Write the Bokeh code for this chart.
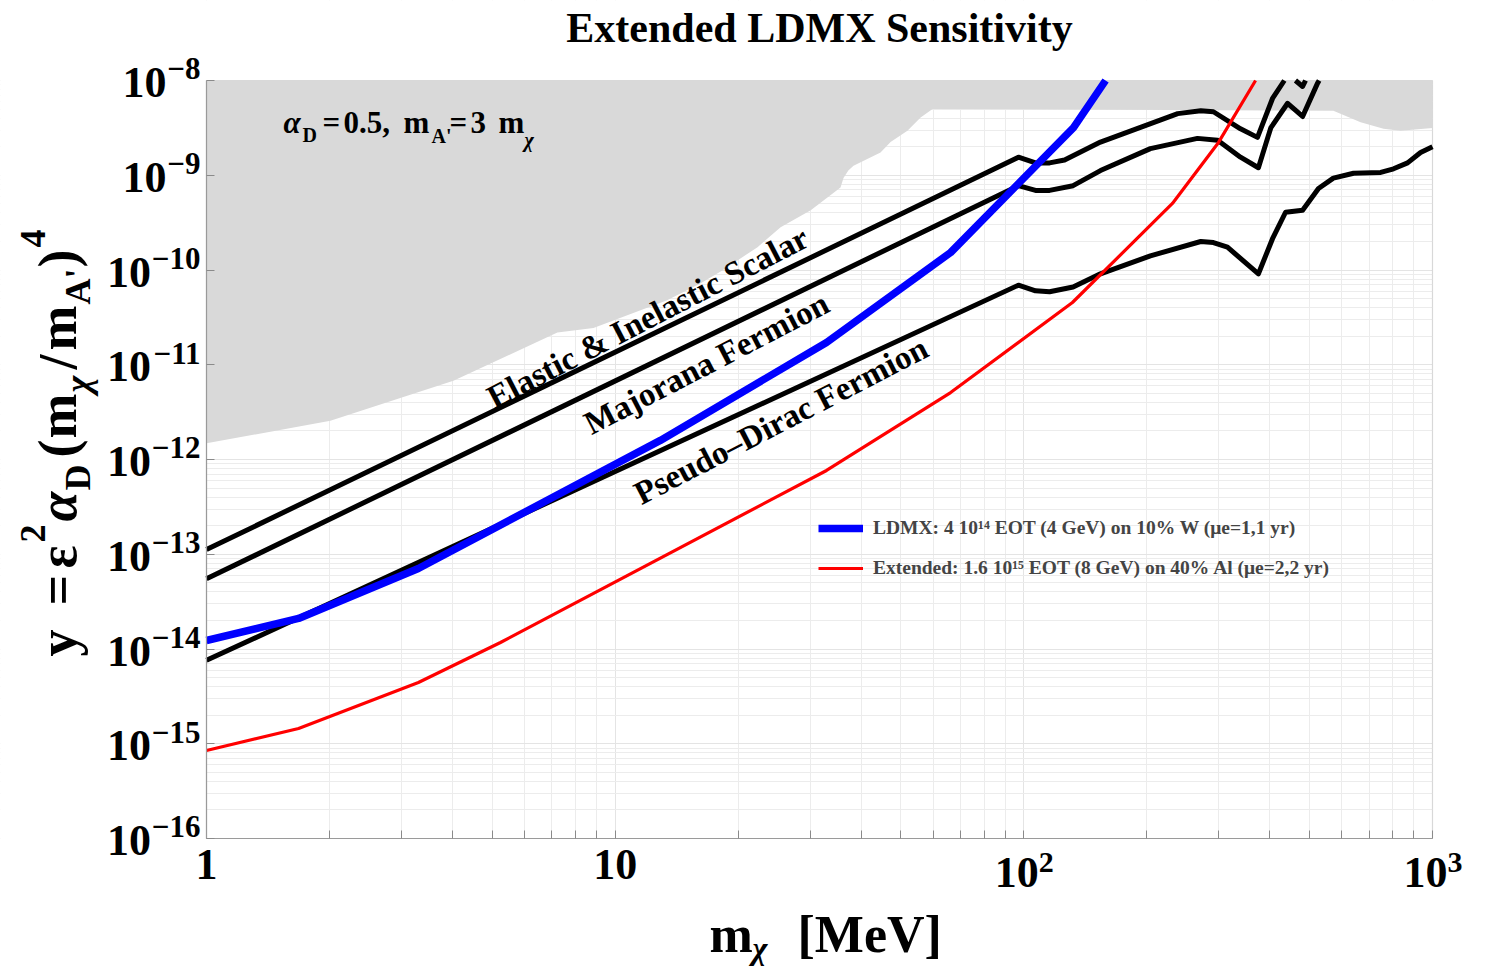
import math
from bokeh.plotting import figure
from bokeh.models import Label, Legend, LegendItem, FixedTicker, Range1d, BoxAnnotation
from bokeh.embed import file_html
from bokeh.resources import INLINE

# ---------------- data ----------------
# excluded (gray) region: lower boundary
mchi_excl = [1.0, 2.01, 2.98, 4.02, 7.22, 8.85, 13.4, 16.2, 18.2, 22.3, 25.4, 30.1,
             35.6, 36.2, 37.2, 38.3, 44.6, 47.2, 51.9, 55.9, 59.8, 572, 667, 759, 835, 1000]
y_excl = [1.48e-12, 2.57e-12, 4.47e-12, 6.76e-12, 2.19e-11, 2.45e-11, 4.79e-11, 7.24e-11,
          9.77e-11, 1.74e-10, 2.82e-10, 4.27e-10, 7.41e-10, 9.33e-10, 1.12e-9, 1.26e-9,
          1.74e-9, 2.24e-9, 2.95e-9, 4.07e-9, 5.01e-9, 4.79e-9, 3.63e-9, 3.09e-9, 2.95e-9, 3.16e-9]

# thermal relic targets (curves leave the plot at the top, 1e-8)
mchi_scalar = [1.0, 97.0, 106.8, 115.6, 125.8, 154, 238, 271, 291, 339, 373, 406, 434]
y_scalar = [1.12e-13, 1.55e-9, 1.35e-9, 1.35e-9, 1.45e-9, 2.24e-9, 4.47e-9, 4.79e-9, 4.68e-9,
            3.09e-9, 2.51e-9, 6.46e-9, 1.0e-8]
mchi_scalar_tip = [462, 481, 489]
y_scalar_tip = [1.0e-8, 8.65e-9, 1.0e-8]

mchi_majorana = [1.0, 97.0, 106.8, 115.6, 132, 154, 204, 266, 298, 339, 375, 402, 442, 481, 523, 528]
y_majorana = [5.50e-14, 7.76e-10, 6.92e-10, 6.92e-10, 7.76e-10, 1.12e-9, 1.91e-9, 2.45e-9, 2.34e-9,
              1.55e-9, 1.20e-9, 3.16e-9, 5.75e-9, 4.17e-9, 9.33e-9, 1.0e-8]

mchi_pdirac = [1.0, 97.0, 106.8, 115.6, 132, 154, 204, 271, 291, 315, 375, 406, 437, 481, 526,
               572, 641, 747, 803, 869, 935, 1000]
y_pdirac = [7.59e-15, 6.92e-11, 6.03e-11, 5.89e-11, 6.61e-11, 9.12e-11, 1.41e-10, 2.00e-10, 1.95e-10,
            1.74e-10, 9.12e-11, 2.14e-10, 4.07e-10, 4.27e-10, 7.24e-10, 9.33e-10, 1.05e-9, 1.07e-9,
            1.17e-9, 1.35e-9, 1.74e-9, 2.00e-9]

# projected sensitivities
mchi_ldmx = [1.0, 1.68, 3.30, 12.9, 32.9, 66.2, 132.3, 158.5]
y_ldmx = [1.23e-14, 2.10e-14, 7.08e-14, 1.59e-12, 1.72e-11, 1.53e-10, 3.19e-9, 1.0e-8]

mchi_ext = [1.0, 1.68, 3.30, 5.24, 32.9, 66.2, 131.5, 231, 299.5, 369]
y_ext = [8.49e-16, 1.45e-15, 4.43e-15, 1.17e-14, 7.66e-13, 5.09e-12, 4.54e-11, 5.04e-10,
         2.22e-9, 1.0e-8]

legend_labels = ["LDMX: 4 10\u00b9\u2074 EOT (4 GeV) on 10% W (\u03bce=1,1 yr)",
                 "Extended: 1.6 10\u00b9\u2075 EOT (8 GeV) on 40% Al (\u03bce=2,2 yr)"]
curve_labels = ["Elastic & Inelastic Scalar", "Majorana Fermion", "Pseudo\u2013Dirac Fermion"]
x_tick_exps = [0, 1, 2, 3]
y_tick_exps = [-16, -15, -14, -13, -12, -11, -10, -9, -8]
title_text = "Extended LDMX Sensitivity"

# ---------------- layout geometry ----------------
FONT = "Liberation Serif"
W, H = 1480, 966
BL, BR, BT, BB = 206, 1432, 80, 838        # data box on the canvas (pixels)
XMIN, XMAX, YMIN, YMAX = 1.0, 1000.0, 1e-16, 1e-8
xdec = (BR - BL) / (math.log10(XMAX) - math.log10(XMIN))
ydec = (BB - BT) / (math.log10(YMAX) - math.log10(YMIN))
x_lo = 10 ** (math.log10(XMIN) - BL / xdec)
x_hi = 10 ** (math.log10(XMIN) + (W - BL) / xdec)
y_hi = 10 ** (math.log10(YMAX) + BT / ydec)
y_lo = 10 ** (math.log10(YMAX) - (H - BT) / ydec)

p = figure(width=W, height=H, x_axis_type="log", y_axis_type="log",
           x_range=Range1d(x_lo, x_hi), y_range=Range1d(y_lo, y_hi),
           output_backend="svg", toolbar_location=None,
           min_border=0, min_border_left=0, min_border_right=0, min_border_top=0, min_border_bottom=0)
p.background_fill_color = "white"
p.border_fill_color = "white"
p.outline_line_color = None

xt = FixedTicker(ticks=[10.0 ** e for e in x_tick_exps],
                 minor_ticks=[m * 10.0 ** n for n in range(0, 3) for m in range(2, 10)])
yt = FixedTicker(ticks=[10.0 ** e for e in y_tick_exps],
                 minor_ticks=[m * 10.0 ** n for n in range(-16, -8) for m in range(2, 10)])
p.xaxis.ticker = xt
p.yaxis.ticker = yt
p.xgrid.ticker = xt
p.ygrid.ticker = yt
p.xaxis.fixed_location = YMIN
p.yaxis.fixed_location = XMIN
p.xaxis.bounds = (XMIN, XMAX)
p.yaxis.bounds = (YMIN, YMAX)
for ax in (p.xaxis, p.yaxis):
    ax.axis_line_color = "#9a9a9a"
    ax.axis_line_width = 1.2
    ax.major_tick_line_color = "#8a8a8a"
    ax.minor_tick_line_color = "#8a8a8a"
    ax.major_tick_in = 8
    ax.major_tick_out = 0
    ax.minor_tick_in = 8
    ax.minor_tick_out = 0
    ax.major_label_text_font_size = "8px"
    ax.major_label_text_color = None
p.yaxis.minor_tick_line_color = None
for g in (p.xgrid, p.ygrid):
    g.grid_line_color = "#e4e4e4"
    g.minor_grid_line_color = "#ececec"
    g.grid_line_width = 1
    g.minor_grid_line_width = 1

# white masks outside the data box (hide grid lines there), then the box outline
for kw in (dict(bottom=YMAX), dict(top=YMIN), dict(right=XMIN), dict(left=XMAX)):
    p.add_layout(BoxAnnotation(fill_color="white", fill_alpha=1.0, line_color=None,
                               level="underlay", **kw))
p.add_layout(BoxAnnotation(left=XMIN, right=XMAX, bottom=YMIN, top=YMAX, fill_alpha=0,
                           line_color="#9a9a9a", line_width=1.2, level="underlay"))

# gray excluded region
p.varea(x=mchi_excl, y1=y_excl, y2=[YMAX] * len(mchi_excl), fill_color="#d9d9d9")

# relic lines
for xs, ys in ((mchi_scalar, y_scalar), (mchi_scalar_tip, y_scalar_tip),
               (mchi_majorana, y_majorana), (mchi_pdirac, y_pdirac)):
    p.line(xs, ys, line_color="black", line_width=5, line_join="round")

r_blue = p.line(mchi_ldmx, y_ldmx, line_color="#0000ff", line_width=7.5, line_join="round")
r_red = p.line(mchi_ext, y_ext, line_color="#ff0000", line_width=3.2, line_join="round")

legend = Legend(items=[LegendItem(label=legend_labels[0], renderers=[r_blue]),
                       LegendItem(label=legend_labels[1], renderers=[r_red])],
                location=(818, H - 580), orientation="vertical")
legend.border_line_color = None
legend.background_fill_alpha = 0
legend.padding = 0
legend.margin = 0
legend.glyph_width = 45
legend.glyph_height = 24
legend.label_height = 24
legend.spacing = 16
legend.label_standoff = 10
legend.label_text_font = FONT
legend.label_text_font_style = "bold"
legend.label_text_font_size = "19.5px"
p.add_layout(legend)


def put(text, x, y, dx, dy, size, align="left", angle=0.0, style="bold", shift=True):
    # (dx, dy) locate the text baseline; labels anchor at mid-cap height, so shift by ~0.34 em
    s = 0.34 * size if shift else 0.0
    p.add_layout(Label(x=x, y=y, x_offset=dx - math.sin(angle) * s, y_offset=dy + math.cos(angle) * s,
                       text=text, text_font=FONT, text_font_size=f"{size}px",
                       text_font_style=style, text_align=align, text_baseline="alphabetic",
                       angle=angle, text_color="black"))


def put_px(text, px, py, size, **kw):
    # position given in canvas pixels, anchored to the data box's bottom-left corner
    put(text, XMIN, YMIN, px - BL, BB - py, size, **kw)


# y tick labels: 10 with superscript exponent
SUP = 31
for e in y_tick_exps:
    sup = "\u2212" + str(-e)
    wsup = SUP * (0.564 + 0.5 * len(str(-e)))
    put(sup, XMIN, 10.0 ** e, -6, 1, SUP, align="right")
    put("10", XMIN, 10.0 ** e, -6 - wsup - 1, -17, 44, align="right")

# x tick labels
for e in x_tick_exps:
    if e == 0:
        put("1", 10.0 ** e, YMIN, 0, -41, 44, align="center")
    elif e == 1:
        put("10", 10.0 ** e, YMIN, 0, -41, 44, align="center")
    else:
        put("10", 10.0 ** e, YMIN, 15, -49, 44, align="right")
        put(str(e), 10.0 ** e, YMIN, 15, -34, 30, align="left")

# title
put(title_text, 10 ** 1.5, YMAX, 0, 38, 42, align="center")

# x axis label: m_chi [MeV]
put_px("m", 709, 952, 52)
put_px("\u03c7", 752, 958, 32, style="bold italic")
put_px("[MeV]", 797, 952, 52)

# y axis label (rotated): y = eps^2 alpha_D (m_chi/m_A')^4
ROT = math.pi / 2
BM, BSUP, BSUB = 76, 45, 90
ylab = [("y", 656, BM, 54, "bold"), ("=", 605, BM, 54, "bold"), ("\u03b5", 568, BM, 54, "bold"),
        ("2", 542, BSUP, 36, "bold"), ("\u03b1", 521, BM, 54, "bold italic"),
        ("D", 490, BSUB, 36, "bold"), ("(", 457, BM, 54, "bold"), ("m", 438, BM, 54, "bold"),
        ("\u03c7", 392, BSUB, 36, "bold italic"), ("/", 369, BM, 54, "bold"),
        ("m", 350, BM, 54, "bold"), ("A'", 304, BSUB, 36, "bold"), (")", 267, BM, 54, "bold"),
        ("4", 247, BSUP, 36, "bold")]
for txt, py, bx, sz, st in ylab:
    put_px(txt, bx, py, sz, angle=ROT, style=st)

# parameter annotation: alpha_D=0.5, m_A'=3 m_chi
ann = [("\u03b1", 283, 133, 31, "bold italic"), ("D", 302, 141, 20, "bold"),
       ("=", 322, 133, 31, "bold"), ("0.5,", 343, 133, 31, "bold"), ("m", 403, 133, 31, "bold"),
       ("A'", 431, 142, 20, "bold"), ("=", 449, 133, 31, "bold"), ("3", 470, 133, 31, "bold"),
       ("m", 498, 133, 31, "bold"), ("\u03c7", 524, 146, 20, "bold italic")]
for txt, px, py, sz, st in ann:
    put_px(txt, px, py, sz, style=st)

# curve labels along the relic lines
CANG = math.radians(27.4)
put_px(curve_labels[0], 489, 399, 33, angle=CANG, shift=False)
put_px(curve_labels[1], 586, 425, 33, angle=CANG, shift=False)
put_px(curve_labels[2], 636, 495, 33, angle=CANG, shift=False)

open("out.html", "w").write(file_html(p, INLINE))
